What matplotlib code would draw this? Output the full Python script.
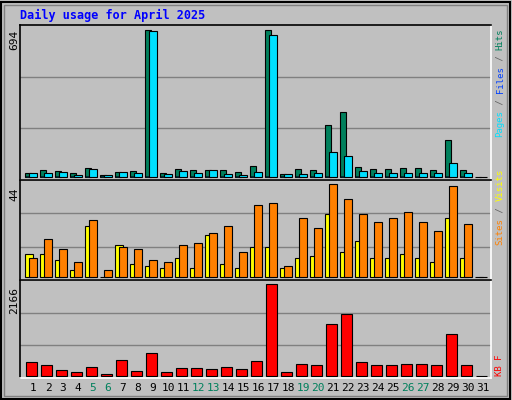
import matplotlib
matplotlib.use("Agg")
import matplotlib.pyplot as plt
from matplotlib.patches import Rectangle
import numpy as np

days = list(range(1, 32))
hits = [16,30,25,16,39,8,20,25,692,16,35,30,30,30,20,49,694,11,35,30,243,304,44,35,35,39,39,30,172,30,0]
files = [16,16,20,6,35,6,20,16,688,11,25,16,30,11,6,20,669,11,11,16,115,96,25,16,16,16,16,16,63,16,0]
pages = [4,2,1,1,1,1,4,1,1,1,1,1,1,1,1,1,1,1,1,1,1,1,1,1,1,1,1,1,1,1,0]
sites = [11,11,8,3,24,0,15,6,5,4,9,4,20,6,4,14,14,4,9,10,30,12,17,9,9,11,9,7,28,9,0]
visits = [9,18,13,7,27,3,14,13,8,7,15,16,21,24,12,34,35,5,28,23,44,37,30,26,28,31,26,22,43,25,0]
kbytes = [316,245,126,79,198,32,364,103,530,79,174,174,150,198,150,340,2166,79,269,245,1217,1454,316,245,245,269,269,245,980,245,0]
weekend = [5,6,12,13,19,20,26,27]

W, H = 512, 400
fig = plt.figure(figsize=(W/100, H/100), dpi=100)
fig.patch.set_facecolor("#C0C0C0")
fig.add_artist(Rectangle((1/W, 1/H), 1-3/W, 1-3/H, transform=fig.transFigure,
                         fill=False, edgecolor="black", lw=1.5))
fig.add_artist(Rectangle((4/W, 4/H), 1-9/W, 1-9/H, transform=fig.transFigure,
                         fill=False, edgecolor="#808080", lw=1))
mono = "DejaVu Sans Mono"
fig.text(20/W, 1-15/H, "Daily usage for April 2025", color="#0000FF",
         fontfamily=mono, fontweight="bold", fontsize=8.5, va="center")

x = np.array(days, dtype=float)
def mkax(top, bottom, ymax, pxmax, pxzero):
    ax = fig.add_axes([20/W, 1-bottom/H, 471/W, (bottom-top)/H])
    ax.set_facecolor("#C0C0C0")
    per = ymax/(pxzero-pxmax)
    ax.set_ylim(-(bottom-pxzero)*per, ymax+(pxmax-top)*per)
    ax.set_xlim(1-11/15, 1+460/15)
    for f in (1/3, 2/3):
        ax.plot([0, 1], [f, f], color="#808080", lw=1, transform=ax.transAxes, zorder=0)
    ax.set_xticks([]); ax.set_yticks([])
    for s in ax.spines.values():
        s.set_color("black"); s.set_linewidth(1.2)
    ax.spines["bottom"].set_color("white"); ax.spines["right"].set_color("white")
    return ax

ax1 = mkax(25, 180, 694, 30, 176.7)
ax1.bar(x-0.4, hits, width=0.4, align="edge", color="#00805C", edgecolor="black", lw=0.8)
ax1.bar(x-0.35, pages, width=0.3, align="edge", color="#00C0FF", edgecolor="black", lw=0.5)
ax1.bar(x-0.12, files, width=0.5, align="edge", color="#00E0FF", edgecolor="black", lw=0.8)

ax2 = mkax(180, 280, 44, 184.3, 276.7)
ax2.bar(x-0.4, sites, width=0.55, align="edge", color="#FFFF00", edgecolor="black", lw=0.8)
ax2.bar(x-0.12, visits, width=0.5, align="edge", color="#FF8000", edgecolor="black", lw=0.8)

ax3 = mkax(280, 378, 2166, 284.3, 375.7)
ax3.bar(x-0.33, kbytes, width=0.71, align="edge", color="#FF0000", edgecolor="black", lw=0.8)

for d in days:
    fig.text((31+15*(d-1)+2)/W, 1-388/H, str(d), ha="center", va="center", fontsize=8,
             fontfamily=mono, color="#00805C" if d in weekend else "black")

for txt, py in (("694", 40), ("44", 194), ("2166", 300)):
    fig.text(14/W, 1-py/H, txt, rotation=90, ha="center", va="center", fontsize=8, fontfamily=mono)

def vstack(parts, ybottom, xpx=500, step=5.45):
    y = ybottom
    for t, c in parts:
        fig.text(xpx/W, 1-y/H, t, rotation=90, ha="center", va="bottom", color=c,
                 fontsize=6.5, fontfamily=mono)
        y -= len(t)*step
vstack([("Pages", "#00E0FF"), (" / ", "#606060"), ("Files", "#0040FF"), (" / ", "#606060"), ("Hits", "#00805C")], 137)
vstack([("Sites", "#FF8000"), (" / ", "#606060"), ("Visits", "#FFFF00")], 245)
vstack([("KB F", "#FF0000")], 376)

fig.savefig("out.png", dpi=100, facecolor=fig.get_facecolor())
